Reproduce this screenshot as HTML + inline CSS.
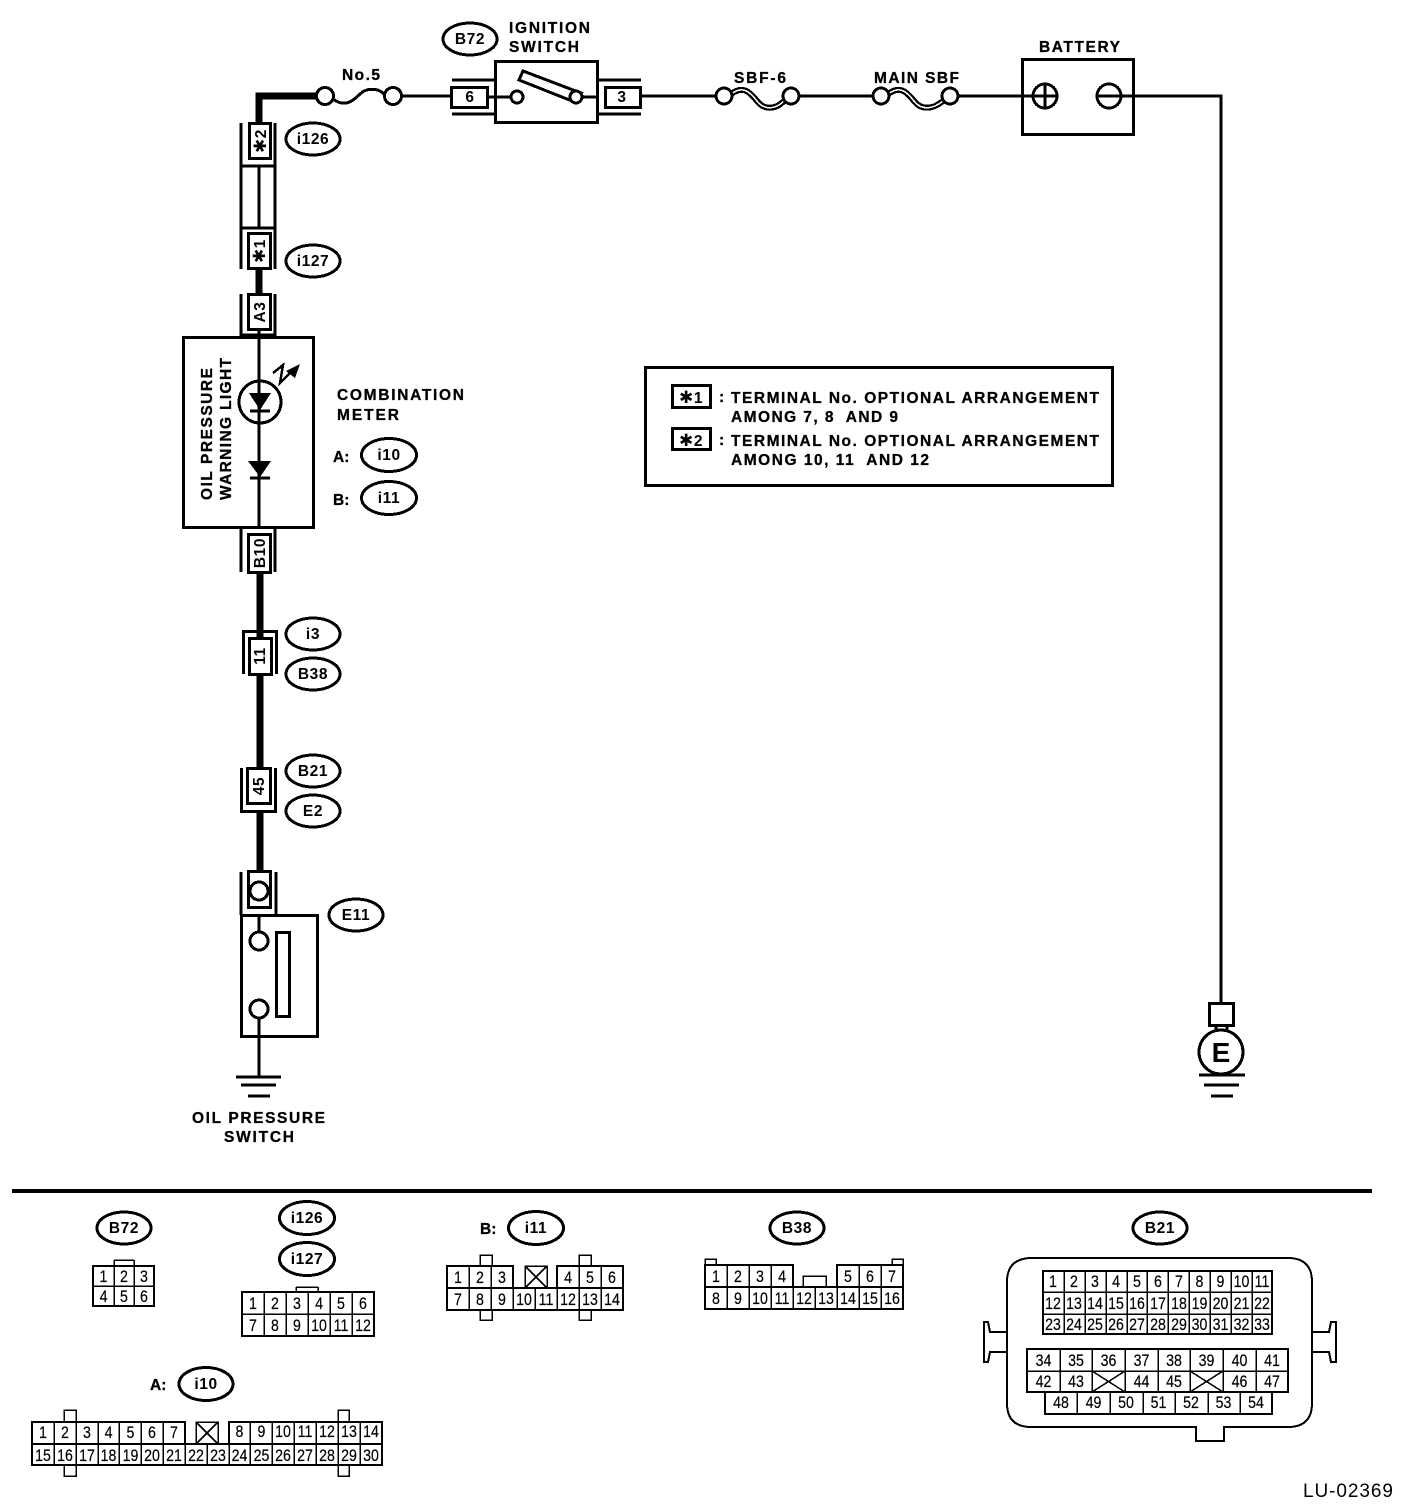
<!DOCTYPE html>
<html><head><meta charset="utf-8"><title>Oil pressure warning light wiring diagram</title>
<style>
html,body{margin:0;padding:0;background:#fff}
svg{display:block}
text{font-family:"Liberation Sans",sans-serif;fill:#000}
.b{font-weight:bold;font-size:15.5px;stroke:#000;stroke-width:.3px}
.m{font-weight:bold;font-size:15.5px;text-anchor:middle;letter-spacing:.6px}
.n{font-size:16.5px;text-anchor:middle;transform-box:fill-box;transform-origin:center;transform:scaleX(.86);stroke:#000;stroke-width:.2px}
.s{font-family:"DejaVu Sans",sans-serif;font-size:17px}
</style></head><body>
<svg width="1408" height="1510" viewBox="0 0 1408 1510" xmlns="http://www.w3.org/2000/svg">
<g fill="none" stroke="#000" stroke-width="3" shape-rendering="crispEdges">
<!-- thick wires -->
<path d="M259,123V96H316" stroke-width="7"/>
<path d="M259,269V294M260,573V638M260,675V768M260,812V871" stroke-width="7"/>
<!-- top wires -->
<path d="M402,96H451M641,96H716M799,96H873M958,96H1057M1097,96H1221V1003"/>
<!-- No.5 fuse -->
<circle cx="325" cy="96" r="8.5" fill="#fff"/><circle cx="393" cy="96" r="8.5"/>
<path d="M333,99C345,108 353,101 360,94C366,88 378,87 385,95"/>
<!-- B72 conn 6 and switch -->
<rect x="451.500" y="87.500" width="36" height="20"/>
<path d="M452,80H495M452,114H495M598,80H641M598,114H641"/>
<rect x="495.500" y="61.500" width="102" height="61"/>
<path d="M488,97H511M582,97H598"/>
<circle cx="517" cy="97" r="6" fill="#fff"/>
<path d="M523,71L581,93L572,101L519,80Z"/>
<circle cx="576" cy="97" r="6" fill="#fff"/>
<rect x="605.500" y="87.500" width="35" height="20"/>
<!-- SBF -->
<path d="M731,94C743,85 750,92 757,101C764,110 775,110 784,101M888,94C900,85 907,92 914,101C921,110 932,110 943,101" stroke-width="6"/>
<path d="M731,94C743,85 750,92 757,101C764,110 775,110 784,101M888,94C900,85 907,92 914,101C921,110 932,110 943,101" stroke="#fff" stroke-width="1.500"/>
<circle cx="724" cy="96" r="8" fill="#fff"/><circle cx="791" cy="96" r="8" fill="#fff"/>
<circle cx="881" cy="96" r="8" fill="#fff"/><circle cx="950" cy="96" r="8" fill="#fff"/>
<!-- battery -->
<rect x="1022.500" y="59.500" width="111" height="75"/>
<circle cx="1045" cy="96" r="12"/><circle cx="1109" cy="96" r="12"/>
<path d="M1045,84V108"/>
<!-- ground E -->
<rect x="1209.500" y="1003.500" width="24" height="22"/>
<path d="M1216,1026V1032M1227,1026V1032"/>
<circle cx="1221" cy="1052" r="22"/>
<path d="M1199,1075H1245M1204,1085H1239M1211,1096H1233"/>
<!-- i126 / i127 -->
<rect x="249.500" y="123.500" width="21" height="35" fill="#fff"/>
<path d="M241,123V228M275,123V228M241,166H275M241,228H275M259,166V228"/>
<path d="M241,228V269M275,228V269"/>
<rect x="248.500" y="233.500" width="22" height="35"/>
<rect x="248.500" y="294.500" width="22" height="35"/>
<path d="M241,294V337M275,294V337M241,335H275"/>
<!-- combination meter -->
<rect x="183.500" y="337.500" width="130" height="190"/>
<path d="M259,330V528"/>
<circle cx="260" cy="402" r="21"/>
<path d="M250,411H270M250,478H270"/>
<path d="M273,373L283,365L280,383L291,372" stroke-width="2.500"/>
<!-- B10 -->
<path d="M241,528V572M275,528V572"/>
<rect x="248.500" y="534.500" width="22" height="38"/>
<!-- 11 -->
<path d="M243.500,674V631.500H276.500V674"/>
<rect x="249.500" y="638.500" width="22" height="36" fill="#fff"/>
<!-- 45 -->
<path d="M241.500,768V811.500H275.500V768"/>
<rect x="247.500" y="768.500" width="23" height="35" fill="#fff"/>
<!-- E11 -->
<path d="M241,872V915M276,872V915"/>
<rect x="248.500" y="871.500" width="22" height="36"/>
<circle cx="259" cy="891" r="9"/>
<rect x="241.500" y="915.500" width="76" height="121"/>
<path d="M259,915V932M259,1018V1077"/>
<circle cx="259" cy="941" r="9" fill="#fff"/><circle cx="259" cy="1009" r="9" fill="#fff"/>
<rect x="276.500" y="932.500" width="13" height="84"/>
<path d="M236,1077H281M241,1085H276M248,1096H270"/>
<!-- legend -->
<rect x="645.500" y="367.500" width="467" height="118"/>
<rect x="672.500" y="385.500" width="38" height="22"/>
<rect x="672.500" y="428.500" width="38" height="21"/>
<!-- ellipses top -->
<ellipse cx="470" cy="39" rx="27" ry="16"/>
<ellipse cx="313" cy="139" rx="27" ry="16"/>
<ellipse cx="313" cy="261" rx="27" ry="16"/>
<ellipse cx="389" cy="455" rx="27.500" ry="16.500"/>
<ellipse cx="389" cy="498" rx="27.500" ry="16.500"/>
<ellipse cx="313" cy="634" rx="27" ry="16"/>
<ellipse cx="313" cy="674" rx="27" ry="16"/>
<ellipse cx="313" cy="771" rx="27" ry="16"/>
<ellipse cx="313" cy="811" rx="27" ry="16"/>
<ellipse cx="356" cy="915" rx="27" ry="16"/>
<!-- divider -->
<path d="M12,1191H1372" stroke-width="4"/>
<!-- bottom ellipses -->
<ellipse cx="124" cy="1228" rx="27" ry="16"/>
<ellipse cx="307" cy="1218" rx="27.500" ry="16.500"/>
<ellipse cx="307" cy="1259" rx="27.500" ry="16.500"/>
<ellipse cx="536" cy="1228" rx="27.500" ry="16.500"/>
<ellipse cx="206" cy="1384" rx="27" ry="16.500"/>
<ellipse cx="797" cy="1228" rx="27" ry="16"/>
<ellipse cx="1160" cy="1228" rx="27" ry="16"/>
<!-- connector grids: outer -->
<g stroke-width="2">
<path d="M93,1266H154V1306H93Z"/>
<path d="M242,1292H374V1336H242Z"/>
<path d="M513,1288V1266H447V1310H623V1266H557V1288M447,1288H623"/>
<path d="M185,1444V1422H32V1465H382V1422H229V1444M32,1444H382"/>
<path d="M793,1287V1265H705V1309H903V1265H837V1287M705,1287H903"/>
<path d="M1043,1271H1272V1334H1043Z"/>
<path d="M1027,1349H1288V1392H1027Z"/>
<path d="M1045,1392V1414H1272V1392"/>
<path d="M1032,1258H1288Q1312,1258 1312,1282V1403Q1312,1427 1288,1427H1224V1441H1196V1427H1031Q1007,1427 1007,1403V1282Q1007,1258 1032,1258Z"/>
</g>
<!-- connector grids: inner & tabs -->
<g stroke-width="1.500">
<path d="M114,1266V1306M134,1266V1306M93,1286H154M114,1260H134M114,1260V1266M134,1260V1266"/>
<path d="M264,1292V1336M286,1292V1336M308,1292V1336M330,1292V1336M352,1292V1336M242,1314H374M296,1287H318M296,1287V1292M318,1287V1292"/>
<path d="M469,1266V1310M491,1266V1310M513,1288V1310M535,1288V1310M557,1288V1310M579,1266V1310M601,1266V1310"/>
<path d="M525,1266H547V1288H525ZM525,1266L547,1288M547,1266L525,1288"/>
<path d="M480,1266V1255H492V1266M579,1266V1255H591V1266M480,1310V1320H492V1310M579,1310V1320H591V1310"/>
<path d="M54,1422V1465M76,1422V1465M98,1422V1465M119,1422V1465M141,1422V1465M163,1422V1465M185,1422V1465M207,1444V1465M229,1422V1465M250,1422V1465M272,1422V1465M294,1422V1465M316,1422V1465M338,1422V1465M360,1422V1465"/>
<path d="M196,1422H218V1444H196ZM196,1422L218,1444M218,1422L196,1444"/>
<path d="M64,1422V1410H76V1422M338,1422V1410H349V1422M64,1465V1476H76V1465M338,1465V1476H349V1465"/>
<path d="M727,1265V1309M749,1265V1309M771,1265V1309M793,1265V1309M815,1287V1309M837,1265V1309M859,1265V1309M881,1265V1309"/>
<path d="M803,1287V1276H826V1287M705,1265V1259H716V1265M892,1265V1259H903V1265"/>
<path d="M1064,1271V1334M1085,1271V1334M1106,1271V1334M1127,1271V1334M1147,1271V1334M1168,1271V1334M1189,1271V1334M1210,1271V1334M1231,1271V1334M1252,1271V1334M1043,1292H1272M1043,1314H1272"/>
<path d="M1060,1349V1392M1092,1349V1392M1125,1349V1392M1158,1349V1392M1190,1349V1392M1223,1349V1392M1256,1349V1392M1027,1371H1288"/>
<path d="M1092,1371L1125,1392M1125,1371L1092,1392M1190,1371L1223,1392M1223,1371L1190,1392"/>
<path d="M1077,1392V1414M1110,1392V1414M1143,1392V1414M1175,1392V1414M1208,1392V1414M1240,1392V1414"/>
<path d="M1007,1332H990L988,1322H984V1362H988L990,1352H1007M1312,1332H1329L1331,1322H1336V1362H1331L1329,1352H1312" stroke-width="2"/>
</g>
</g>
<!-- filled -->
<g fill="#000" stroke="none" shape-rendering="crispEdges">
<path d="M249,393H271L260,410Z"/>
<path d="M248,461H271L260,477Z"/>
<path d="M300,364L295,378L286,371Z"/>
</g>
<!-- labels -->
<text class="b" x="342" y="80" textLength="38">No.5</text>
<text class="b" x="509" y="33" textLength="81">IGNITION</text>
<text class="b" x="509" y="52" textLength="70">SWITCH</text>
<text class="b" x="734" y="83" textLength="52">SBF-6</text>
<text class="b" x="874" y="83" textLength="85">MAIN SBF</text>
<text class="b" x="1039" y="52" textLength="81">BATTERY</text>
<text class="b" x="337" y="400" textLength="127">COMBINATION</text>
<text class="b" x="337" y="420" textLength="62">METER</text>
<text class="b" x="333" y="462">A:</text>
<text class="b" x="333" y="505">B:</text>
<text class="b" x="192" y="1123" textLength="133">OIL PRESSURE</text>
<text class="b" x="224" y="1142" textLength="70">SWITCH</text>
<text class="b" transform="rotate(-90 212 500)" x="212" y="500" textLength="132">OIL PRESSURE</text>
<text class="b" transform="rotate(-90 231 500)" x="231" y="500" textLength="142">WARNING LIGHT</text>
<text class="b" x="731" y="403" textLength="368">TERMINAL No. OPTIONAL ARRANGEMENT</text>
<text class="b" x="731" y="422" textLength="167" xml:space="preserve">AMONG 7, 8  AND 9</text>
<text class="b" x="731" y="446" textLength="368">TERMINAL No. OPTIONAL ARRANGEMENT</text>
<text class="b" x="731" y="465" textLength="198" xml:space="preserve">AMONG 10, 11  AND 12</text>
<text class="b" x="719" y="402">:</text>
<text class="b" x="719" y="445">:</text>
<text class="m" x="691" y="403"><tspan class="s">✱</tspan>1</text>
<text class="m" x="691" y="446"><tspan class="s">✱</tspan>2</text>
<text class="m" x="470" y="44">B72</text>
<text class="m" x="470" y="102">6</text>
<text class="m" x="622" y="102">3</text>
<text class="m" x="313" y="144">i126</text>
<text class="m" x="313" y="266">i127</text>
<text class="m" x="389" y="460">i10</text>
<text class="m" x="389" y="503">i11</text>
<text class="m" x="313" y="639">i3</text>
<text class="m" x="313" y="679">B38</text>
<text class="m" x="313" y="776">B21</text>
<text class="m" x="313" y="816">E2</text>
<text class="m" x="356" y="920">E11</text>
<text class="m" transform="rotate(-90 266 141)" x="266" y="141"><tspan class="s">✱</tspan>2</text>
<text class="m" transform="rotate(-90 265 251)" x="265" y="251"><tspan class="s">✱</tspan>1</text>
<text class="m" transform="rotate(-90 265 312)" x="265" y="312">A3</text>
<text class="m" transform="rotate(-90 265 553)" x="265" y="553">B10</text>
<text class="m" transform="rotate(-90 265 656)" x="265" y="656">11</text>
<text class="m" transform="rotate(-90 264 786)" x="264" y="786">45</text>
<text x="1221" y="1062" style="font-weight:bold;font-size:28px;text-anchor:middle">E</text>
<text class="m" x="124" y="1233">B72</text>
<text class="m" x="307" y="1223">i126</text>
<text class="m" x="307" y="1264">i127</text>
<text class="b" x="480" y="1234">B:</text>
<text class="m" x="536" y="1233">i11</text>
<text class="b" x="150" y="1390">A:</text>
<text class="m" x="206" y="1389">i10</text>
<text class="m" x="797" y="1233">B38</text>
<text class="m" x="1160" y="1233">B21</text>
<text x="1303" y="1497" textLength="90" style="font-size:19px">LU-02369</text>
<!-- B72 pins -->
<g>
<text class="n" x="103.500" y="1282">1</text><text class="n" x="124" y="1282">2</text><text class="n" x="144" y="1282">3</text>
<text class="n" x="103.500" y="1302">4</text><text class="n" x="124" y="1302">5</text><text class="n" x="144" y="1302">6</text>
</g>
<!-- i127 pins -->
<g>
<text class="n" x="253" y="1309">1</text><text class="n" x="275" y="1309">2</text><text class="n" x="297" y="1309">3</text><text class="n" x="319" y="1309">4</text><text class="n" x="341" y="1309">5</text><text class="n" x="363" y="1309">6</text>
<text class="n" x="253" y="1331">7</text><text class="n" x="275" y="1331">8</text><text class="n" x="297" y="1331">9</text><text class="n" x="319" y="1331">10</text><text class="n" x="341" y="1331">11</text><text class="n" x="363" y="1331">12</text>
</g>
<!-- i11 pins -->
<g>
<text class="n" x="458" y="1283">1</text><text class="n" x="480" y="1283">2</text><text class="n" x="502" y="1283">3</text><text class="n" x="568" y="1283">4</text><text class="n" x="590" y="1283">5</text><text class="n" x="612" y="1283">6</text>
<text class="n" x="458" y="1305">7</text><text class="n" x="480" y="1305">8</text><text class="n" x="502" y="1305">9</text><text class="n" x="524" y="1305">10</text><text class="n" x="546" y="1305">11</text><text class="n" x="568" y="1305">12</text><text class="n" x="590" y="1305">13</text><text class="n" x="612" y="1305">14</text>
</g>
<!-- i10 pins -->
<g>
<text class="n" x="43" y="1438">1</text><text class="n" x="65" y="1438">2</text><text class="n" x="87" y="1438">3</text><text class="n" x="108.500" y="1438">4</text><text class="n" x="130.500" y="1438">5</text><text class="n" x="152" y="1438">6</text><text class="n" x="174" y="1438">7</text>
<text class="n" x="239.500" y="1437">8</text><text class="n" x="261.500" y="1437">9</text><text class="n" x="283" y="1437">10</text><text class="n" x="305" y="1437">11</text><text class="n" x="327" y="1437">12</text><text class="n" x="349" y="1437">13</text><text class="n" x="371" y="1437">14</text>
<text class="n" x="43" y="1461">15</text><text class="n" x="65" y="1461">16</text><text class="n" x="87" y="1461">17</text><text class="n" x="108.500" y="1461">18</text><text class="n" x="130.500" y="1461">19</text><text class="n" x="152" y="1461">20</text><text class="n" x="174" y="1461">21</text><text class="n" x="196" y="1461">22</text><text class="n" x="218" y="1461">23</text><text class="n" x="239.500" y="1461">24</text><text class="n" x="261.500" y="1461">25</text><text class="n" x="283" y="1461">26</text><text class="n" x="305" y="1461">27</text><text class="n" x="327" y="1461">28</text><text class="n" x="349" y="1461">29</text><text class="n" x="371" y="1461">30</text>
</g>
<!-- B38 pins -->
<g>
<text class="n" x="716" y="1282">1</text><text class="n" x="738" y="1282">2</text><text class="n" x="760" y="1282">3</text><text class="n" x="782" y="1282">4</text><text class="n" x="848" y="1282">5</text><text class="n" x="870" y="1282">6</text><text class="n" x="892" y="1282">7</text>
<text class="n" x="716" y="1304">8</text><text class="n" x="738" y="1304">9</text><text class="n" x="760" y="1304">10</text><text class="n" x="782" y="1304">11</text><text class="n" x="804" y="1304">12</text><text class="n" x="826" y="1304">13</text><text class="n" x="848" y="1304">14</text><text class="n" x="870" y="1304">15</text><text class="n" x="892" y="1304">16</text>
</g>
<!-- B21 pins -->
<g>
<text class="n" x="1053" y="1287">1</text><text class="n" x="1074" y="1287">2</text><text class="n" x="1095" y="1287">3</text><text class="n" x="1116" y="1287">4</text><text class="n" x="1137" y="1287">5</text><text class="n" x="1158" y="1287">6</text><text class="n" x="1179" y="1287">7</text><text class="n" x="1199.500" y="1287">8</text><text class="n" x="1220.500" y="1287">9</text><text class="n" x="1241.500" y="1287">10</text><text class="n" x="1262" y="1287">11</text>
<text class="n" x="1053" y="1309">12</text><text class="n" x="1074" y="1309">13</text><text class="n" x="1095" y="1309">14</text><text class="n" x="1116" y="1309">15</text><text class="n" x="1137" y="1309">16</text><text class="n" x="1158" y="1309">17</text><text class="n" x="1179" y="1309">18</text><text class="n" x="1199.500" y="1309">19</text><text class="n" x="1220.500" y="1309">20</text><text class="n" x="1241.500" y="1309">21</text><text class="n" x="1262" y="1309">22</text>
<text class="n" x="1053" y="1330">23</text><text class="n" x="1074" y="1330">24</text><text class="n" x="1095" y="1330">25</text><text class="n" x="1116" y="1330">26</text><text class="n" x="1137" y="1330">27</text><text class="n" x="1158" y="1330">28</text><text class="n" x="1179" y="1330">29</text><text class="n" x="1199.500" y="1330">30</text><text class="n" x="1220.500" y="1330">31</text><text class="n" x="1241.500" y="1330">32</text><text class="n" x="1262" y="1330">33</text>
<text class="n" x="1043.500" y="1366">34</text><text class="n" x="1076" y="1366">35</text><text class="n" x="1108.500" y="1366">36</text><text class="n" x="1141.500" y="1366">37</text><text class="n" x="1174" y="1366">38</text><text class="n" x="1206.500" y="1366">39</text><text class="n" x="1239.500" y="1366">40</text><text class="n" x="1272" y="1366">41</text>
<text class="n" x="1043.500" y="1387">42</text><text class="n" x="1076" y="1387">43</text><text class="n" x="1141.500" y="1387">44</text><text class="n" x="1174" y="1387">45</text><text class="n" x="1239.500" y="1387">46</text><text class="n" x="1272" y="1387">47</text>
<text class="n" x="1061" y="1408">48</text><text class="n" x="1093.500" y="1408">49</text><text class="n" x="1126" y="1408">50</text><text class="n" x="1158.500" y="1408">51</text><text class="n" x="1191" y="1408">52</text><text class="n" x="1223.500" y="1408">53</text><text class="n" x="1256" y="1408">54</text>
</g>
</svg>
</body></html>
